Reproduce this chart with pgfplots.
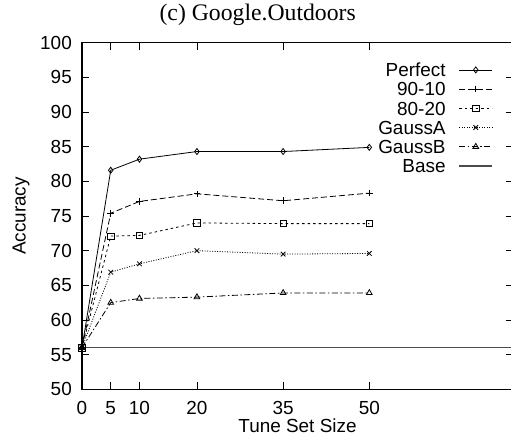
\documentclass[border=0pt]{standalone}
\usepackage{fontspec}
\setmainfont{Liberation Sans}
\newfontfamily\tm{Liberation Serif}
\usepackage{pgfplots}
\pgfplotsset{compat=1.18}
\newcommand{\lab}{\fontsize{19}{19}\selectfont}
\begin{document}
\begin{tikzpicture}
\begin{axis}[
  scale only axis, width=431bp, height=346.6bp,
  xmin=0, xmax=75, ymin=50, ymax=100,
  xtick={0,5,10,20,35,50}, ytick={50,55,...,100},
  tick align=inside, major tick length=7bp,
  axis line style={line width=1.3bp},
  tick style={line width=0.8bp, black},
  clip=false,
  /pgf/number format/assume math mode=true,
  tick label style={font=\lab},
  xticklabel style={anchor=base, inner sep=0pt, yshift=-25.7bp},
  yticklabel style={anchor=east, inner sep=0pt, xshift=-10bp},
  xlabel={Tune Set Size}, ylabel={Accuracy},
  label style={font=\lab},
  xlabel style={at={(axis description cs:0.5,-0.1252)}, anchor=base, inner sep=0pt},
  ylabel style={at={(axis description cs:-0.1415,0.5)}, anchor=center, inner sep=0pt},
  title={(c) Google.Outdoors},
  title style={font=\tm\fontsize{23.8}{23.8}\selectfont, at={(axis description cs:0.4077,1.0467)}, anchor=base, inner sep=0pt},
  legend style={draw=none, fill=none, at={(axis description cs:0.9536,0.9394)}, anchor=north east,
    inner sep=0pt, outer sep=0pt, row sep=0pt, column sep=13bp, font=\lab,
    nodes={inner sep=0pt, text height=13bp, text depth=6.2bp}},
  legend cell align=right,
  legend plot pos=right,
  legend image code/.code={\draw[mark repeat=2,mark phase=2,#1] plot coordinates {(0bp,3.4bp)(16.5bp,3.4bp)(33bp,3.4bp)};},
]
\addplot[black, line width=0.8bp, mark=diamond, mark size=3bp, mark options={solid, fill=white}]
  coordinates {(0,56)(5,81.6)(10,83.2)(20,84.3)(35,84.3)(50,84.9)};
\addlegendentry{Perfect}
\addplot[black, line width=0.8bp, dash pattern=on 6bp off 3bp, mark=+, mark size=3.3bp, mark options={solid}]
  coordinates {(0,56)(5,75.4)(10,77.1)(20,78.2)(35,77.2)(50,78.3)};
\addlegendentry{90-10}
\addplot[black, line width=0.8bp, dash pattern=on 2.5bp off 3bp, mark=square, mark size=3.2bp, mark options={solid, fill=white}]
  coordinates {(0,56)(5,72.1)(10,72.2)(20,74.0)(35,73.9)(50,73.9)};
\addlegendentry{80-20}
\addplot[black, line width=0.8bp, dash pattern=on 1bp off 1.5bp, mark=x, mark size=3.3bp, mark options={solid}]
  coordinates {(0,56)(5,66.9)(10,68.1)(20,70.0)(35,69.5)(50,69.6)};
\addlegendentry{GaussA}
\addplot[black, line width=0.8bp, dash pattern=on 6bp off 2.5bp on 1.5bp off 2.5bp, mark=triangle, mark size=3.3bp, mark options={solid, fill=white}]
  coordinates {(0,56)(5,62.5)(10,63.1)(20,63.3)(35,63.9)(50,63.9)};
\addlegendentry{GaussB}
\addplot[black!70, line width=1.4bp]
  coordinates {(0,56)(75,56)};
\addlegendentry{Base}
\end{axis}
\pgfresetboundingbox
\useasboundingbox (-82bp,-50.7bp) rectangle (429bp,389.3bp);
\end{tikzpicture}
\end{document}
